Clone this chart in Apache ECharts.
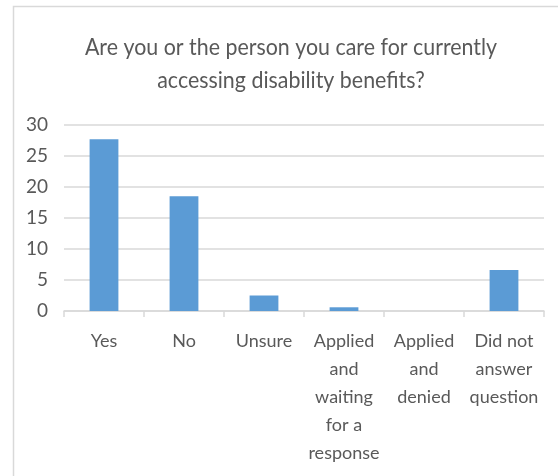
<!DOCTYPE html>
<html>
<head>
<meta charset="utf-8">
<script src="https://cdn.jsdelivr.net/npm/echarts@6/dist/echarts.min.js"></script>
<style>
  html, body { margin: 0; padding: 0; background: #fff; }
  #chart { width: 558px; height: 476px; }
</style>
</head>
<body>
<div id="chart"></div>
<script>
// Survey answers and their counts
const categories = [
  'Yes',
  'No',
  'Unsure',
  'Applied\nand\nwaiting\nfor a\nresponse',
  'Applied\nand\ndenied',
  'Did not\nanswer\nquestion'
];
const responses = [27.7, 18.5, 2.5, 0.6, 0, 6.6];
const yTicks = [0, 5, 10, 15, 20, 25, 30];
const titleLines = [
  'Are you or the person you care for currently',
  'accessing disability benefits?'
];

const textColor = '#595959';
const font = 'Lato, sans-serif';

const chart = echarts.init(document.getElementById('chart'));
chart.setOption({
  animation: false,
  graphic: [{
    // chart area frame
    type: 'rect',
    shape: { x: 13.5, y: 6.5, width: 700, height: 700 },
    style: { fill: 'none', stroke: '#d9d9d9', lineWidth: 1.5 },
    silent: true
  }, {
    // two-line title, slightly condensed
    type: 'text',
    x: 291,
    y: 31,
    scaleX: 0.93,
    style: {
      text: titleLines.join('\n'),
      fill: textColor,
      font: '23px ' + font,
      lineHeight: 33,
      align: 'center',
      verticalAlign: 'top'
    },
    silent: true
  }],
  grid: { left: 64, right: 14, top: 125, bottom: 165 },
  xAxis: {
    type: 'category',
    data: categories,
    axisLine: { lineStyle: { color: '#d9d9d9', width: 1.5 } },
    axisTick: { show: true, length: 6, lineStyle: { color: '#d9d9d9', width: 1.5 } },
    axisLabel: {
      color: textColor,
      fontFamily: font,
      fontSize: 18,
      lineHeight: 28,
      margin: 16,
      interval: 0
    }
  },
  yAxis: {
    type: 'value',
    min: yTicks[0],
    max: yTicks[yTicks.length - 1],
    interval: 5,
    axisLine: { show: false },
    axisTick: { show: false },
    splitLine: { lineStyle: { color: '#d9d9d9', width: 1.5 } },
    axisLabel: {
      color: textColor,
      fontFamily: font,
      fontSize: 19,
      margin: 16
    }
  },
  series: [{
    type: 'bar',
    data: responses,
    barWidth: '36%',
    itemStyle: { color: '#5b9bd5' }
  }]
});
</script>
</body>
</html>
